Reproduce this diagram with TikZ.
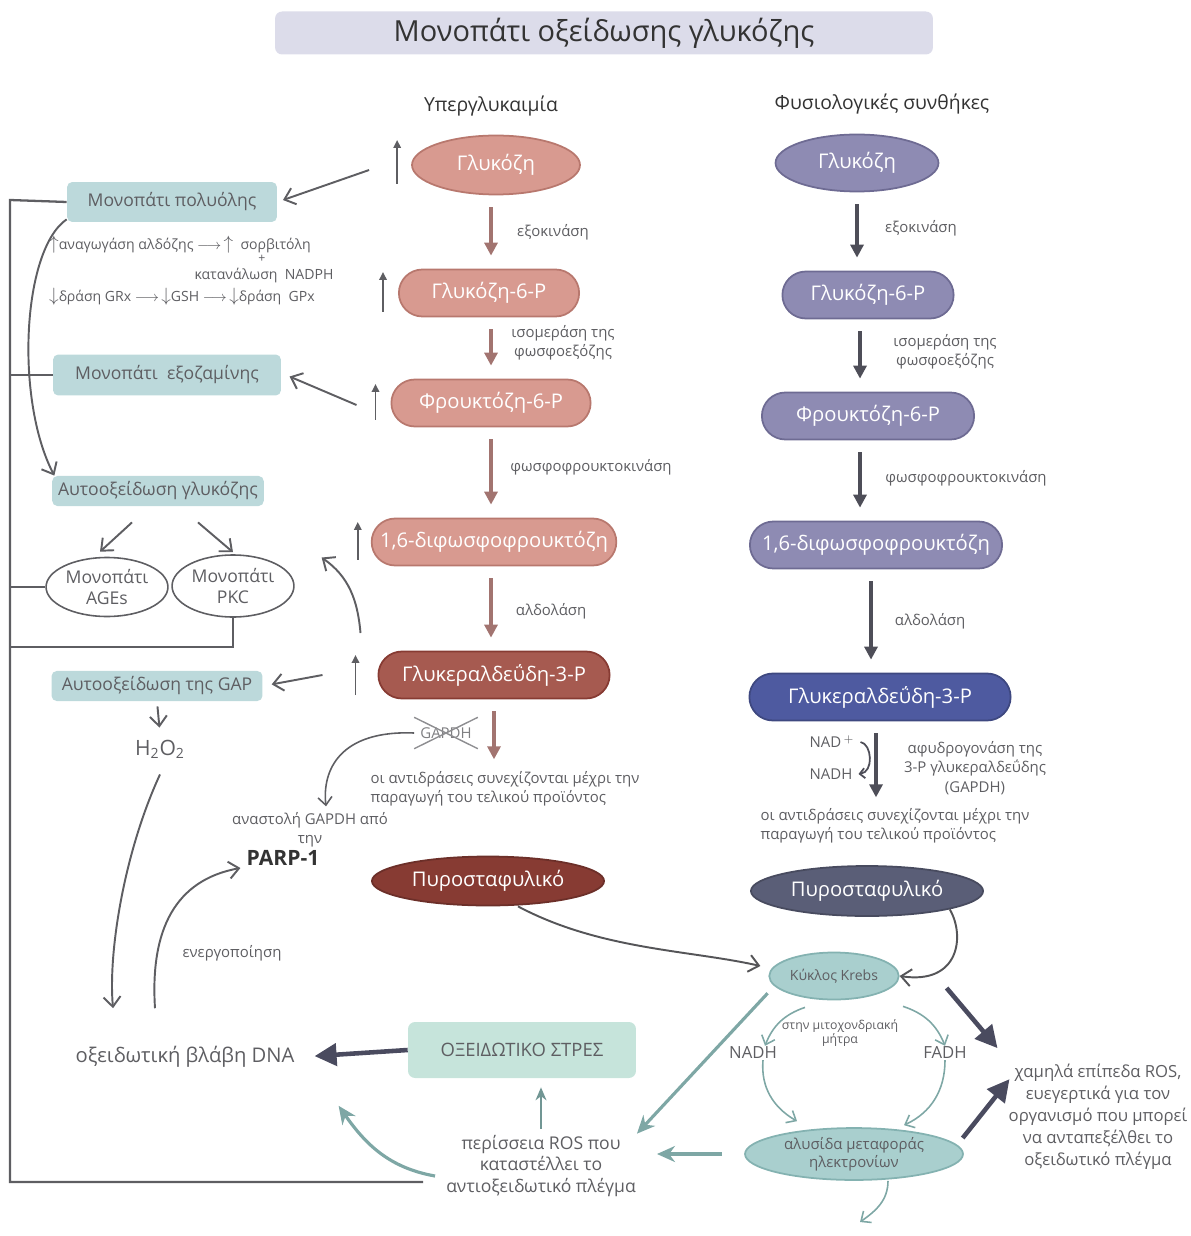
\documentclass[tikz,border=0pt]{standalone}
\usepackage{fontspec}
\setmainfont{Open Sans}
\usetikzlibrary{arrows.meta, positioning, shapes.geometric, shapes.misc}
\definecolor{ttlfill}{HTML}{DCDCEA}
\definecolor{txtgray}{HTML}{5E5E62}
\definecolor{hypfill}{HTML}{D89A90}
\definecolor{hypline}{HTML}{B8786E}
\definecolor{hypgap}{HTML}{A65A50}
\definecolor{hyppyr}{HTML}{873B33}
\definecolor{hyparrow}{HTML}{A27470}
\definecolor{phyfill}{HTML}{8E8BB3}
\definecolor{phyline}{HTML}{6E6B93}
\definecolor{phygap}{HTML}{4E5AA0}
\definecolor{phypyr}{HTML}{5A5E77}
\definecolor{phyarrow}{HTML}{4E4E58}
\definecolor{tealbox}{HTML}{BCD9DB}
\definecolor{stressfill}{HTML}{C6E4DB}
\definecolor{krebsfill}{HTML}{A9CFCE}
\definecolor{krebsline}{HTML}{84B2B1}
\definecolor{tealarrow}{HTML}{7EA7A5}
\definecolor{darkarrow}{HTML}{4A4B5F}
\newcommand{\incup}{{\fontsize{11}{11}\selectfont$\uparrow$}}
\newcommand{\incdn}{{\fontsize{11}{11}\selectfont$\downarrow$}}

\begin{document}
\begin{tikzpicture}[
    x=0.02cm, y=-0.02cm,
    every node/.style={align=center, text=txtgray, font=\fontsize{8.5}{11}\selectfont},
    hpill/.style={rounded rectangle, fill=hypfill, draw=hypline, line width=1pt,
                  minimum height=0.94cm, text=white, font=\fontsize{11.5}{14}\selectfont},
    hoval/.style={ellipse, fill=hypfill, draw=hypline, line width=1pt,
                  text=white, font=\fontsize{11.5}{14}\selectfont},
    ppill/.style={hpill, fill=phyfill, draw=phyline},
    poval/.style={hoval, fill=phyfill, draw=phyline},
    tbox/.style={rectangle, rounded corners=3pt, fill=tealbox, font=\fontsize{10}{12}\selectfont},
    ring/.style={ellipse, draw=txtgray, line width=0.9pt, inner sep=1pt,
                 font=\fontsize{10}{11.5}\selectfont},
    kring/.style={ellipse, fill=krebsfill, draw=krebsline, line width=1pt, inner sep=1pt},
    hstep/.style={draw=hyparrow, line width=1.8pt, -{Triangle[length=2.6mm,width=2.6mm]},
                  shorten <=0.24cm, shorten >=0.26cm},
    pstep/.style={hstep, draw=phyarrow},
    incr/.style={draw=txtgray, line width=1pt, -{Triangle[length=1.6mm,width=1.5mm]}},
    sidear/.style={draw=txtgray, line width=1.1pt, -{Straight Barb[length=2mm,width=3.4mm]}},
    fineline/.style={draw=txtgray, line width=0.9pt, -{Straight Barb[length=1.6mm,width=2.8mm]}},
    bracket/.style={draw=txtgray, line width=1.3pt},
    tealar/.style={draw=tealarrow, line width=1.8pt, -{Stealth[length=3.6mm,width=3.2mm]}},
    tealfine/.style={draw=tealarrow, line width=0.9pt, -{Straight Barb[length=1.6mm,width=2.8mm]}},
    heavy/.style={draw=darkarrow, line width=2.6pt, -{Triangle[length=4.4mm,width=4.4mm]}}
  ]
  \useasboundingbox (0,0) rectangle (1190,1236);

  % title and column heads
  \node[rectangle, rounded corners=4pt, fill=ttlfill, minimum width=13.16cm, minimum height=0.86cm,
        text=black!80, font=\fontsize{16.5}{20}\selectfont] (title) at (604,33) {Μονοπάτι οξείδωσης γλυκόζης};
  \node[text=black!80, font=\fontsize{11}{13}\selectfont] (hyp) at (491,106) {Υπεργλυκαιμία};
  \node[text=black!80, font=\fontsize{11}{13}\selectfont] (phys) at (882,104) {Φυσιολογικές συνθήκες};

  % hyperglycaemia column
  \node[hoval, minimum width=3.36cm, minimum height=1.18cm] (hglc) at (496,165) {Γλυκόζη};
  \node[hpill, minimum width=3.84cm] (hg6p) at (489,293) {Γλυκόζη-6-P};
  \node[hpill, minimum width=4.22cm] (hf6p) at (491,403) {Φρουκτόζη-6-P};
  \node[hpill, minimum width=4.86cm] (hfbp) at (494,542) {1,6-διφωσφοφρουκτόζη};
  \node[hpill, fill=hypgap, draw=hyppyr, minimum width=4.86cm] (hgap) at (494,675) {Γλυκεραλδεΰδη-3-P};
  \node[hoval, fill=hyppyr, draw=hyppyr!80!black, minimum width=3.3cm, minimum height=0.98cm] (hpyr) at (488,881) {Πυροσταφυλικό};

  \node (hk1) at (553,232) {εξοκινάση};
  \node (hk2) at (563,343) {ισομεράση της\\φωσφοεξόζης};
  \node (hk3) at (591,467) {φωσφοφρουκτοκινάση};
  \node (hk4) at (551,611) {αλδολάση};
  \node[align=left] (hcont) at (505,789) {οι αντιδράσεις συνεχίζονται μέχρι την\\παραγωγή του τελικού προϊόντος};
  \node[text=txtgray!80] (xgapdh) at (446,733) {GAPDH};

  \draw[hstep] ([xshift=-0.1cm]hglc.south) -- ([xshift=-0.1cm]hglc.south |- hg6p.north);
  \draw[hstep] ([xshift=0.04cm]hg6p.south) -- ([xshift=0.04cm]hg6p.south |- hf6p.north);
  \draw[hstep] (hf6p.south) -- (hf6p.south |- hfbp.north);
  \draw[hstep] ([xshift=-0.06cm]hfbp.south) -- ([xshift=-0.06cm]hfbp.south |- hgap.north);
  \draw[hstep, shorten >=0.12cm] (hgap.south) -- (hgap.south |- hcont.north);
  \draw[txtgray!70, line width=0.8pt] ([yshift=0.08cm]xgapdh.north west) -- ([yshift=-0.08cm]xgapdh.south east)
        ([yshift=-0.08cm]xgapdh.south west) -- ([yshift=0.08cm]xgapdh.north east);

  \draw[incr] ([xshift=-0.28cm,yshift=-0.38cm]hglc.west) -- ++(0,-44);
  \draw[incr] ([xshift=-0.3cm,yshift=-0.38cm]hg6p.west) -- ++(0,-40);
  \draw[incr] ([xshift=-0.3cm,yshift=-0.34cm]hf6p.west) -- ++(0,-36);
  \draw[incr] ([xshift=-0.26cm,yshift=-0.36cm]hfbp.west) -- ++(0,-38);
  \draw[incr] ([xshift=-0.44cm,yshift=-0.4cm]hgap.west) -- ++(0,-40);

  % physiological column
  \node[poval, minimum width=3.26cm, minimum height=1.14cm] (pglc) at (857,163) {Γλυκόζη};
  \node[ppill, minimum width=3.66cm] (pg6p) at (868,295) {Γλυκόζη-6-P};
  \node[ppill, minimum width=4.48cm] (pf6p) at (868,416) {Φρουκτόζη-6-P};
  \node[ppill, minimum width=5.28cm] (pfbp) at (876,545) {1,6-διφωσφοφρουκτόζη};
  \node[ppill, fill=phygap, draw=phygap!80!black, minimum width=5.46cm] (pgap) at (880,697) {Γλυκεραλδεΰδη-3-P};
  \node[poval, fill=phypyr, draw=phypyr!80!black, minimum width=3.34cm, minimum height=1.0cm] (ppyr) at (867,891) {Πυροσταφυλικό};

  \node (pk1) at (921,228) {εξοκινάση};
  \node (pk2) at (945,352) {ισομεράση της\\φωσφοεξόζης};
  \node (pk3) at (966,478) {φωσφοφρουκτοκινάση};
  \node (pk4) at (930,621) {αλδολάση};
  \node (pk5) at (975,768) {αφυδρογονάση της\\3-P γλυκεραλδεΰδης\\(GAPDH)};
  \node (nad) at (832,742) {NAD$^{\,+}$};
  \node (nadh) at (831,774) {NADH};
  \node[align=left] (pcont) at (895,826) {οι αντιδράσεις συνεχίζονται μέχρι την\\παραγωγή του τελικού προϊόντος};

  \draw[pstep] (pglc.south) -- (pglc.south |- pg6p.north);
  \draw[pstep] ([xshift=-0.16cm]pg6p.south) -- ([xshift=-0.16cm]pg6p.south |- pf6p.north);
  \draw[pstep] ([xshift=-0.16cm]pf6p.south) -- ([xshift=-0.16cm]pf6p.south |- pfbp.north);
  \draw[pstep] ([xshift=-0.1cm]pfbp.south) -- ([xshift=-0.1cm]pfbp.south |- pgap.north);
  \draw[pstep, shorten >=0.1cm] ([xshift=-0.08cm]pgap.south) -- ([xshift=-0.08cm]pgap.south |- pcont.north);
  \draw[draw=phyarrow, line width=1pt, -{Straight Barb[length=1mm,width=2mm]}]
        (nad.east) .. controls (872,744) and (874,772) .. (nadh.east);

  % side pathways
  \node[tbox, minimum width=4.2cm, minimum height=0.8cm] (polyol) at (172,202) {Μονοπάτι πολυόλης};
  \node[anchor=west, font=\fontsize{8}{10}\selectfont] (ald) at (43,245)
       {\incup αναγωγάση αλδόζης $\longrightarrow$\,\incup\ \ σορβιτόλη};
  \node[font=\fontsize{7}{8}\selectfont] (plus) at (262,259) {+};
  \node[font=\fontsize{8}{10}\selectfont] (nadph) at (264,276) {κατανάλωση\ \ NADPH};
  \node[anchor=west, font=\fontsize{8}{10}\selectfont] (gsh) at (43,297)
       {\incdn δράση GRx $\longrightarrow$\,\incdn GSH $\longrightarrow$\,\incdn δράση\ \ GPx};
  \node[tbox, minimum width=4.56cm, minimum height=0.82cm] (hexos) at (167,375) {Μονοπάτι\ \ εξοζαμίνης};
  \node[tbox, minimum width=4.22cm, minimum height=0.48cm] (autoglc) at (158,491) {Αυτοοξείδωση γλυκόζης};
  \node[ring, minimum width=2.1cm, minimum height=1.18cm] (ages) at (107,587) {Μονοπάτι\\AGEs};
  \node[ring, minimum width=2.0cm, minimum height=1.24cm] (pkc) at (233,586) {Μονοπάτι\\PKC};
  \node[tbox, minimum width=4.22cm, minimum height=0.5cm] (autogap) at (157,686) {Αυτοοξείδωση της GAP};
  \node[font=\fontsize{12}{14}\selectfont] (h2o2) at (160,749) {H\textsubscript{2}O\textsubscript{2}};
  \node (inh) at (310,830) {αναστολή GAPDH από\\την};
  \node[text=black!80, font=\fontsize{12}{14}\selectfont\bfseries] (parp) at (283,858) {PARP-1};
  \node (act) at (232,953) {ενεργοποίηση};
  \node[font=\fontsize{11.5}{14}\selectfont] (dna) at (185,1057) {οξειδωτική βλάβη DNA};

  \draw[sidear, shorten >=0.12cm] ([xshift=-0.84cm,yshift=-0.1cm]hglc.west) -- (polyol.east);
  \draw[sidear, shorten >=0.18cm] ([xshift=-0.68cm,yshift=-0.04cm]hf6p.west) -- ([yshift=0.04cm]hexos.east);
  \draw[sidear, shorten >=0.18cm] ([xshift=-1.1cm]hgap.west) -- (autogap.east);
  \draw[sidear] ([yshift=0.06cm]polyol.south west) .. controls (22,250) and (15,400) .. ([xshift=0.05cm]autoglc.north west);
  \draw[sidear] ([xshift=-0.52cm,yshift=-0.32cm]autoglc.south) -- ([xshift=-0.14cm,yshift=0.1cm]ages.north);
  \draw[sidear] ([xshift=0.8cm,yshift=-0.32cm]autoglc.south) -- ([yshift=0.04cm]pkc.north);
  \draw[sidear] ([xshift=-0.34cm,yshift=0.84cm]hgap.west) to[out=95,in=-35] ([xshift=0.9cm,yshift=0.12cm]pkc.north east);
  \draw[sidear, shorten <=0.1cm, shorten >=0.12cm] (autogap.south) -- (h2o2.north);
  \draw[sidear] ([yshift=-0.2cm]h2o2.south) .. controls (125,850) and (108,950) .. ([xshift=-1.44cm,yshift=0.64cm]dna.north);
  \draw[sidear] ([xshift=-0.6cm,yshift=0.64cm]dna.north) .. controls (150,930) and (175,880) .. ([yshift=-0.2cm]parp.west);
  \draw[fineline] (xgapdh.west) .. controls (340,730) and (322,770) .. ([xshift=0.32cm]inh.north);

  % bracket on the left
  \coordinate (ftop) at (10,200);
  \coordinate (fpkc) at (10,647);
  \coordinate (fbot) at (10,1182);
  \coordinate (fend) at (423,1182);
  \draw[bracket] (polyol.west) -- (ftop) -- (fbot) -- (fend);
  \draw[bracket] (hexos.west) -- (hexos.west -| ftop);
  \draw[bracket] (ages.west) -- (ages.west -| ftop);
  \draw[bracket] (pkc.south) |- (fpkc);

  % mitochondria
  \node[kring, minimum width=2.36cm, minimum height=0.94cm, font=\fontsize{8}{10}\selectfont] (krebs) at (834,976) {Κύκλος Krebs};
  \node[font=\fontsize{7}{8.5}\selectfont] (matrix) at (840,1033) {στην μιτοχονδριακή\\μήτρα};
  \node[font=\fontsize{9.5}{11}\selectfont] (nadh2) at (753,1053) {NADH};
  \node[font=\fontsize{9.5}{11}\selectfont] (fadh) at (945,1053) {FADH};
  \node[kring, minimum width=4.36cm, minimum height=0.96cm, font=\fontsize{8.5}{10}\selectfont] (etc) at (854,1154) {αλυσίδα μεταφοράς\\ηλεκτρονίων};
  \coordinate (etcout) at (860,1222);
  \node[font=\fontsize{9.5}{12.5}\selectfont] (lowros) at (1098,1117) {χαμηλά επίπεδα ROS,\\ευεγερτικά για τον\\οργανισμό που μπορεί\\να ανταπεξέλθει το\\οξειδωτικό πλέγμα};
  \node[rectangle, rounded corners=4pt, fill=stressfill, minimum width=4.56cm, minimum height=1.12cm,
        font=\fontsize{10.5}{12}\selectfont] (stress) at (522,1050) {ΟΞΕΙΔΩΤΙΚΟ ΣΤΡΕΣ};
  \node[font=\fontsize{10}{12.5}\selectfont] (ros) at (541,1166) {περίσσεια ROS που\\καταστέλλει το\\αντιοξειδωτικό πλέγμα};

  \draw[draw=txtgray!90!black, line width=1.1pt, -{Straight Barb[length=2mm,width=3.4mm]}]
        ([xshift=0.6cm]hpyr.south) .. controls (600,950) and (690,950) .. ([xshift=-0.16cm,yshift=0.2cm]krebs.west);
  \draw[draw=txtgray!90!black, line width=1.1pt, -{Straight Barb[length=2mm,width=3.4mm]}]
        (ppyr.south east) .. controls (965,935) and (960,985) .. (krebs.east);
  \draw[tealfine] ([xshift=-0.58cm,yshift=-0.14cm]krebs.south) to[bend right=25] ([xshift=0.24cm,yshift=-0.1cm]nadh2.north);
  \draw[tealfine] ([xshift=1.38cm,yshift=-0.12cm]krebs.south) to[bend left=25] ([yshift=-0.1cm]fadh.north);
  \draw[tealfine] ([xshift=0.2cm,yshift=0.1cm]nadh2.south) to[out=-95,in=150] ([xshift=-1.14cm,yshift=0.12cm]etc.north);
  \draw[tealfine] ([yshift=0.1cm]fadh.south) to[out=-90,in=25] ([xshift=1.0cm,yshift=0.04cm]etc.north);
  \draw[tealfine] ([xshift=0.68cm]etc.south) to[out=-90,in=35] (etcout);
  \draw[heavy] ([xshift=0.94cm,yshift=-0.24cm]krebs.east) -- ([xshift=-0.1cm,yshift=0.2cm]lowros.north west);
  \draw[heavy] ([xshift=0.62cm,yshift=-0.06cm]etc.north east) -- ([xshift=0.14cm,yshift=-0.42cm]lowros.north west);
  \draw[tealar] ([xshift=-0.4cm]krebs.south west) -- ([xshift=-0.1cm,yshift=-0.1cm]ros.north east);
  \draw[tealar, shorten <=0.44cm, shorten >=0.3cm] (etc.west) -- (etc.west -| ros.east);
  \draw[tealar, draw=tealarrow!90!black, line width=1pt, -{Stealth[length=2.6mm,width=2.2mm]}, shorten >=0.18cm] (ros.north) -- (ros.north |- stress.south);
  \draw[tealar] ([xshift=-0.1cm,yshift=-0.2cm]ros.west) to[out=170,in=-55] ([xshift=0.76cm,yshift=-0.64cm]dna.south east);
  \draw[heavy, shorten >=0.28cm] (stress.west) -- (dna.east);
\end{tikzpicture}
\end{document}
